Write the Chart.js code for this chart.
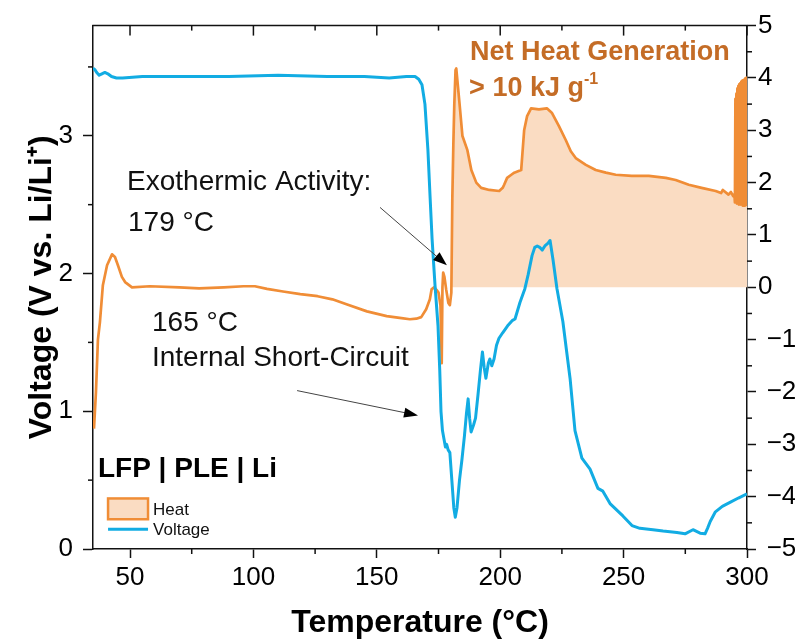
<!DOCTYPE html>
<html>
<head>
<meta charset="utf-8">
<script src="https://cdn.jsdelivr.net/npm/chart.js@4.4.1/dist/chart.umd.min.js"></script>
<style>
  html, body { margin: 0; padding: 0; background: #fff; }
  #chart { display: block; }
</style>
</head>
<body>
<canvas id="chart" width="795" height="642"></canvas>
<script>
// Temperature axis ticks (°C)
const TEMP_TICKS = [50, 100, 150, 200, 250, 300];
const TEMP_MINOR = [75, 125, 175, 225, 275];
// Voltage axis ticks (V vs. Li/Li+)
const VOLT_TICKS = [0, 1, 2, 3];
const VOLT_MINOR = [0.5, 1.5, 2.5, 3.5];
// Heat flow axis ticks
const HEAT_TICKS = [-5, -4, -3, -2, -1, 0, 1, 2, 3, 4, 5];
const HEAT_MINOR = [-4.5, -3.5, -2.5, -1.5, -0.5, 0.5, 1.5, 2.5, 3.5, 4.5];

// Onset of the net exothermic region (°C), shaded down to zero
const EXO_ONSET = 180.2;

// Heat flow trace
const HEAT_TEMP = [
  35.4, 36.2, 37.0, 37.8, 39.0, 40.7, 42.7, 43.9, 45.1, 46.7, 48.0, 50.8,
  58, 70, 78, 88, 96, 100.6, 105.5, 112, 119, 126, 132, 138, 146, 154, 160,
  163.4, 166, 168, 170, 171.5, 172.2, 173.2, 174.2, 175.0, 175.8, 176.3, 176.6,
  176.9, 177.4, 178.1, 179.0, 179.6, 180.2, 180.6, 181.0, 181.4, 181.9, 182.2,
  183.5, 184.7, 186.7, 188.3, 190.3, 192.3, 195.6, 199.6, 201.0, 201.6, 202.8,
  204.5, 205.7, 208.5, 209.7, 210.9, 212.5, 215.7, 218.9, 221.0, 223.8, 226.6,
  228.6, 230.6, 234.7, 238.7, 242.8, 246.8, 253.3, 260.2, 267.1, 271.1, 276.4,
  281.6, 287.3, 289.5, 290.2, 292.5, 293.5, 294.4, 294.9,
  295.1, 295.3, 295.5, 295.7, 295.9, 296.1, 296.3, 296.5, 296.7, 296.9, 297.1,
  297.3, 297.5, 297.7, 297.9, 298.1, 298.3, 298.5, 298.7, 298.9, 299.1, 299.3,
  299.5, 299.7, 299.9, 300
];
const HEAT_FLOW = [
  -2.7, -2.0, -1.0, -0.67, 0.04, 0.42, 0.63, 0.58, 0.42, 0.2, 0.1, 0.0,
  0.02, 0.0, -0.02, 0.0, 0.02, 0.02, -0.03, -0.08, -0.13, -0.17, -0.23, -0.33, -0.46, -0.55, -0.59,
  -0.61, -0.6, -0.57, -0.42, -0.23, -0.04, 0.0, -0.05, -0.1, -0.35, -1.45, 0.0,
  0.28, 0.2, -0.04, -0.3, -0.34, -0.1, 1.7, 2.7, 3.5, 4.15, 4.18,
  3.52, 2.89, 2.62, 2.24, 2.0, 1.9, 1.86, 1.84, 1.9, 1.96, 2.09,
  2.15, 2.19, 2.24, 3.0, 3.27, 3.42, 3.4, 3.42, 3.33, 3.08, 2.81,
  2.6, 2.47, 2.34, 2.24, 2.19, 2.15, 2.13, 2.13, 2.09, 2.05, 1.96,
  1.9, 1.84, 1.8, 1.86, 1.77, 1.82, 1.74, 1.78,
  1.62, 3.6, 1.65, 3.7, 1.6, 3.8, 1.62, 3.85, 1.58, 3.88, 1.6,
  3.9, 1.58, 3.93, 1.6, 3.95, 1.56, 3.96, 1.58, 3.97, 1.56, 3.99,
  1.57, 4.0, 1.58, 4.02
];

// Cell voltage trace
const VOLT_TEMP = [
  35.0, 35.8, 36.5, 37.5, 38.6, 39.8, 41.0, 42.5, 44.5, 47, 55, 70, 90, 110, 130,
  145, 155, 162, 165.5, 167, 168.3, 169.5, 170.7, 171.6, 172.4, 173.6, 174.8,
  175.5, 176.0, 176.6, 177.2, 177.8, 178.3, 178.9, 179.6, 180.4, 181.2, 181.8,
  182.5, 183.5, 184.5, 185.5, 186.3, 187.0, 187.6, 188.2, 189.2, 190.0, 191.0,
  192.0, 192.8, 193.5, 194.2, 195.2, 195.8, 196.6, 197.5, 198.5, 199.5, 201,
  203, 205, 206, 208, 210, 211.3, 212.9, 214, 215, 216, 217, 218.1, 219.4,
  220.2, 221.4, 223, 225.4, 226.8, 228.3, 230.3, 233.1, 236.4, 239.6, 241.6,
  244.5, 249.7, 253.4, 256.6, 261.9, 266, 271.6, 274.9, 278.1, 281, 283, 284,
  285.1, 287.2, 290, 293.3, 296.5, 300
];
const VOLT_VALUES = [
  3.49, 3.48, 3.46, 3.44, 3.45, 3.46, 3.45, 3.43, 3.42, 3.42, 3.43, 3.43, 3.43, 3.44, 3.43,
  3.43, 3.42, 3.43, 3.43, 3.41, 3.37, 3.23, 2.9, 2.55, 2.25, 1.91, 1.62,
  1.3, 1.0, 0.86, 0.8, 0.74, 0.76, 0.72, 0.7, 0.5, 0.3, 0.23,
  0.3, 0.5, 0.65, 0.82, 0.98, 1.09, 0.95, 0.85, 0.9, 0.95, 1.12,
  1.3, 1.43, 1.32, 1.24, 1.35, 1.38, 1.33, 1.38, 1.48, 1.53, 1.57,
  1.62, 1.66, 1.67, 1.79, 1.89, 1.99, 2.13, 2.19, 2.2, 2.19, 2.17, 2.2, 2.22,
  2.24, 2.1, 1.89, 1.65, 1.45, 1.24, 0.86, 0.66, 0.58, 0.44, 0.42,
  0.33, 0.24, 0.17, 0.15, 0.14, 0.13, 0.12, 0.11, 0.14, 0.115, 0.11, 0.15,
  0.2, 0.27, 0.31, 0.34, 0.37, 0.40
];

const ORANGE = '#f08d36';
const PEACH = '#fadcc2';
const BLUE = '#12ace3';
const HEAT_TEXT = '#c46c26';
const INK = '#111';
const FONT = "'Liberation Sans', Arial, sans-serif";

const heatPoints = HEAT_TEMP.map((t, i) => ({ x: t, y: HEAT_FLOW[i] }));
const heatShade = heatPoints.filter(p => p.x >= EXO_ONSET);
const voltPoints = VOLT_TEMP.map((t, i) => ({ x: t, y: VOLT_VALUES[i] }));

function seg(ctx, x1, y1, x2, y2) {
  ctx.beginPath();
  ctx.moveTo(x1, y1);
  ctx.lineTo(x2, y2);
  ctx.stroke();
}

// Closed frame, top-axis ticks and minor ticks
const frameTicks = {
  id: 'frameTicks',
  afterDraw(chart) {
    const { ctx, chartArea: a, scales } = chart;
    ctx.save();
    ctx.strokeStyle = INK;
    ctx.lineWidth = 1.5;
    seg(ctx, a.left - 0.75, a.top, a.right + 0.75, a.top);
    TEMP_TICKS.forEach(v => {
      const px = scales.x.getPixelForValue(v);
      seg(ctx, px, a.top, px, a.top + 10);
    });
    TEMP_MINOR.forEach(v => {
      const px = scales.x.getPixelForValue(v);
      seg(ctx, px, a.top, px, a.top + 5);
      seg(ctx, px, a.bottom, px, a.bottom + 5);
    });
    VOLT_MINOR.forEach(v => {
      const py = scales.y.getPixelForValue(v);
      seg(ctx, a.left - 5, py, a.left, py);
    });
    HEAT_MINOR.forEach(v => {
      const py = scales.yHeat.getPixelForValue(v);
      seg(ctx, a.right, py, a.right + 5, py);
    });
    ctx.restore();
  }
};

function arrow(ctx, x1, y1, x2, y2) {
  const ang = Math.atan2(y2 - y1, x2 - x1);
  const len = 14, half = 5;
  ctx.strokeStyle = '#444';
  ctx.lineWidth = 1;
  seg(ctx, x1, y1, x2 - Math.cos(ang) * len * 0.8, y2 - Math.sin(ang) * len * 0.8);
  ctx.fillStyle = '#000';
  ctx.beginPath();
  ctx.moveTo(x2, y2);
  ctx.lineTo(x2 - Math.cos(ang) * len - Math.sin(ang) * half, y2 - Math.sin(ang) * len + Math.cos(ang) * half);
  ctx.lineTo(x2 - Math.cos(ang) * len + Math.sin(ang) * half, y2 - Math.sin(ang) * len - Math.cos(ang) * half);
  ctx.closePath();
  ctx.fill();
}

// Text labels, arrows and the small legend
const annotations = {
  id: 'annotations',
  afterDatasetsDraw(chart) {
    const { ctx, scales: { x, y } } = chart;
    const px = v => x.getPixelForValue(v);
    const py = v => y.getPixelForValue(v);
    ctx.save();
    ctx.textBaseline = 'alphabetic';
    ctx.textAlign = 'left';

    ctx.fillStyle = INK;
    ctx.font = `28px ${FONT}`;
    ctx.fillText('Exothermic Activity:', px(48.8), py(2.61));
    ctx.fillText('179 °C', px(49.2), py(2.31));
    ctx.fillText('165 °C', px(58.9), py(1.58));
    ctx.fillText('Internal Short-Circuit', px(58.9), py(1.33));

    arrow(ctx, px(151.3), py(2.48), px(178.4), py(2.06));
    arrow(ctx, px(117.7), py(1.15), px(166.7), py(0.97));

    ctx.fillStyle = HEAT_TEXT;
    ctx.font = `bold 27px ${FONT}`;
    ctx.fillText('Net Heat Generation', px(187.8), py(3.55));
    const base = '> 10 kJ g';
    const bx = px(187.4), by = py(3.29);
    ctx.fillText(base, bx, by);
    const w = ctx.measureText(base).width;
    ctx.font = `bold 16px ${FONT}`;
    ctx.fillText('-1', bx + w, by - 12);

    ctx.fillStyle = '#000';
    ctx.font = `bold 28px ${FONT}`;
    ctx.fillText('LFP | PLE | Li', px(37.0), py(0.52));

    // legend
    const lx = px(41.1), lw = px(57.3) - px(41.1);
    ctx.fillStyle = PEACH;
    ctx.strokeStyle = ORANGE;
    ctx.lineWidth = 2.5;
    ctx.fillRect(lx, py(0.367), lw, py(0.216) - py(0.367));
    ctx.strokeRect(lx, py(0.367), lw, py(0.216) - py(0.367));
    ctx.strokeStyle = BLUE;
    ctx.lineWidth = 3;
    seg(ctx, lx, py(0.144), lx + lw, py(0.144));
    ctx.fillStyle = INK;
    ctx.font = `17px ${FONT}`;
    ctx.fillText('Heat', lx + lw + 5, py(0.245));
    ctx.fillText('Voltage', lx + lw + 5, py(0.1));
    ctx.restore();
  }
};

const axisBase = {
  border: { display: true, color: INK, width: 1.5 },
  ticks: { color: '#000', font: { family: FONT, size: 26 } }
};

new Chart(document.getElementById('chart'), {
  type: 'line',
  data: {
    datasets: [
      {
        label: 'Voltage',
        data: voltPoints,
        yAxisID: 'y',
        borderColor: BLUE,
        borderWidth: 3,
        pointRadius: 0,
        fill: false,
        order: 0
      },
      {
        label: 'Heat',
        data: heatPoints,
        yAxisID: 'yHeat',
        borderColor: ORANGE,
        borderWidth: 2.7,
        pointRadius: 0,
        fill: false,
        order: 1
      },
      {
        label: 'Net heat',
        data: heatShade,
        yAxisID: 'yHeat',
        borderWidth: 0,
        borderColor: 'rgba(0,0,0,0)',
        backgroundColor: PEACH,
        pointRadius: 0,
        fill: { value: 0 },
        order: 2
      }
    ]
  },
  options: {
    responsive: false,
    animation: false,
    parsing: true,
    elements: { line: { tension: 0, borderJoinStyle: 'round' } },
    layout: { padding: { top: 22, left: 0, right: 0, bottom: 0 } },
    plugins: {
      legend: { display: false },
      tooltip: { enabled: false }
    },
    scales: {
      x: {
        ...axisBase,
        type: 'linear',
        position: 'bottom',
        min: 35,
        max: 300,
        afterBuildTicks: s => { s.ticks = TEMP_TICKS.map(v => ({ value: v })); },
        afterFit: s => { s.height = 93; },
        grid: { display: true, drawOnChartArea: false, tickLength: 9, tickColor: INK, tickWidth: 1.5 },
        ticks: { ...axisBase.ticks, padding: 4, maxRotation: 0 },
        title: {
          display: true,
          text: 'Temperature (°C)',
          color: '#000',
          font: { family: FONT, size: 32, weight: 'bold' },
          padding: { top: 0, bottom: 0 }
        }
      },
      y: {
        ...axisBase,
        type: 'linear',
        position: 'left',
        min: 0,
        max: 3.8,
        afterBuildTicks: s => { s.ticks = VOLT_TICKS.map(v => ({ value: v })); },
        afterFit: s => { s.width = 93; },
        grid: { display: true, drawOnChartArea: false, tickLength: 10, tickColor: INK, tickWidth: 1.5 },
        ticks: { ...axisBase.ticks, padding: 10 },
        title: {
          display: true,
          text: 'Voltage (V vs. Li/Li⁺)',
          color: '#000',
          font: { family: FONT, size: 32, weight: 'bold' },
          padding: { top: 23, bottom: 0 }
        }
      },
      yHeat: {
        ...axisBase,
        type: 'linear',
        position: 'right',
        min: -5,
        max: 5,
        afterBuildTicks: s => { s.ticks = HEAT_TICKS.map(v => ({ value: v })); },
        afterFit: s => { s.width = 48; },
        grid: { display: true, drawOnChartArea: false, tickLength: 9, tickColor: INK, tickWidth: 1.5 },
        ticks: {
          ...axisBase.ticks,
          padding: 2,
          callback: v => (v < 0 ? '\u2004\u2212' + Math.abs(v) : String(v))
        }
      }
    }
  },
  plugins: [frameTicks, annotations]
});
</script>
</body>
</html>
